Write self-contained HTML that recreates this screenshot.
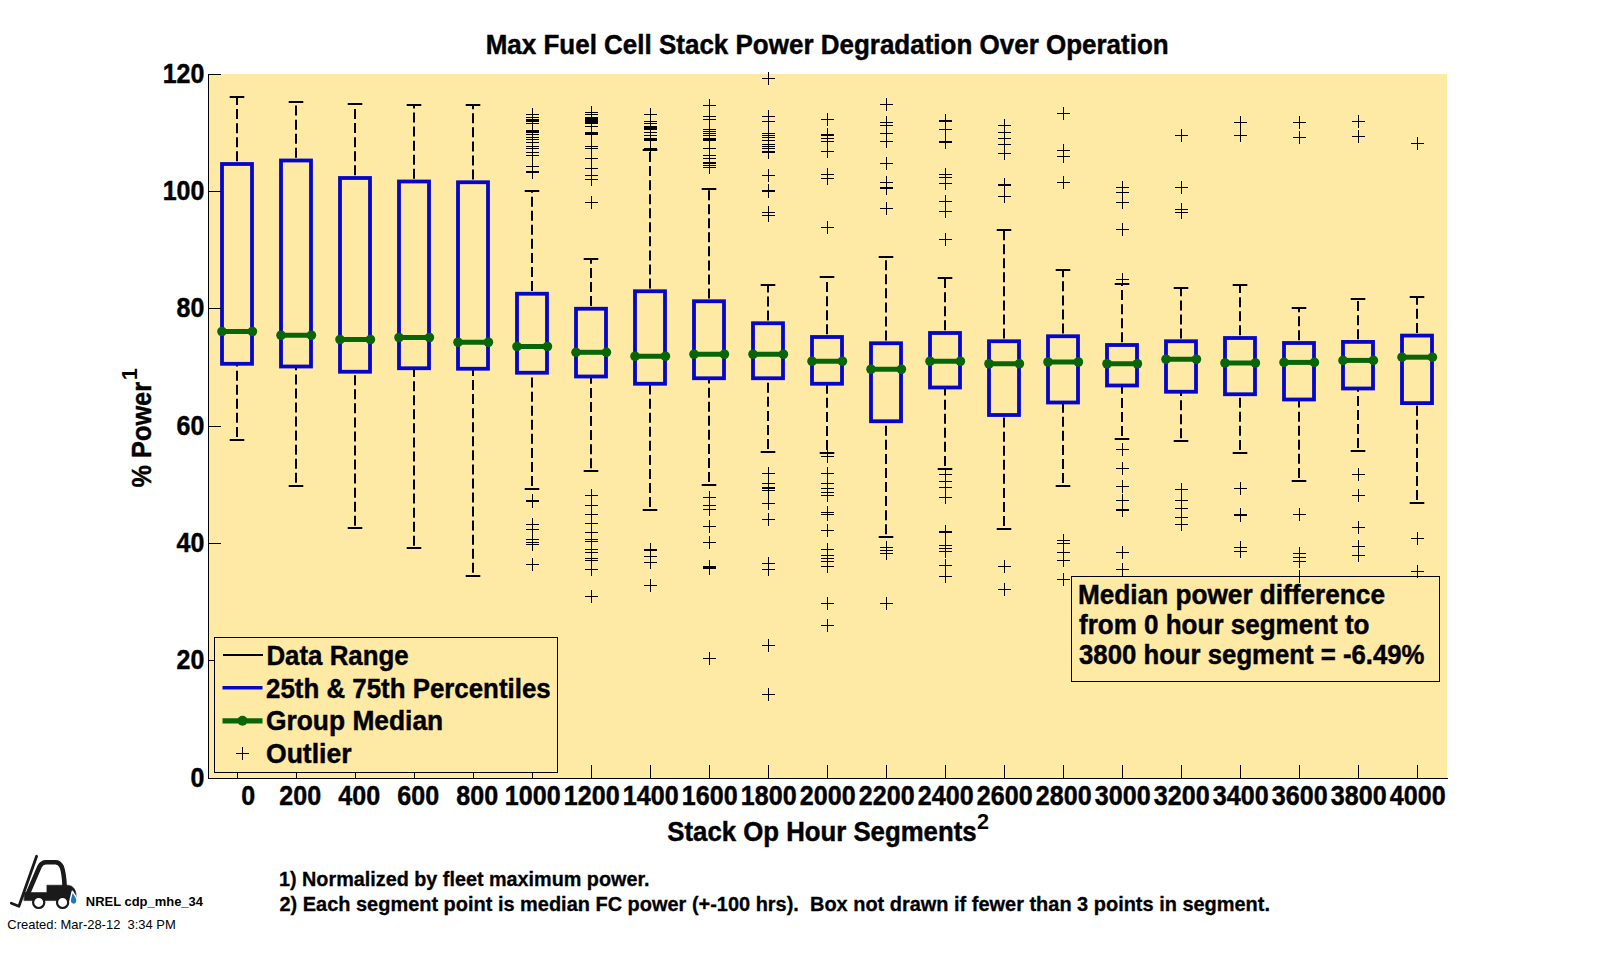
<!DOCTYPE html>
<html lang="en"><head><meta charset="utf-8"><title>Max Fuel Cell Stack Power Degradation Over Operation</title>
<style>html,body{margin:0;padding:0;background:#fff;}body{width:1599px;height:960px;overflow:hidden;}svg{display:block;}text{font-family:"Liberation Sans",Arial,Helvetica,sans-serif;fill:#000;}.b{font-weight:bold;}.t25{font-size:27px;stroke:#000;stroke-width:0.45px;}.t19{font-size:20.2px;stroke:#000;stroke-width:0.3px;}.t12{font-size:13.6px;}</style></head><body>
<svg width="1599" height="960" viewBox="0 0 1599 960">
<rect x="0" y="0" width="1599" height="960" fill="#ffffff"/>
<rect x="209" y="74" width="1238" height="704" fill="#FFEAA5"/>
<g stroke="#000" stroke-width="2" fill="none">
<path d="M237.00 164.00V97.00" stroke-dasharray="10 4.06" stroke-dashoffset="11.36"/>
<path d="M237.00 439.60V363.80" stroke-dasharray="10 4.06" stroke-dashoffset="11.36"/>
<path d="M229.70 97H244.30M229.70 440H244.30"/>
<path d="M296.00 160.50V101.75" stroke-dasharray="10 4.06" stroke-dashoffset="11.36"/>
<path d="M296.00 485.50V366.50" stroke-dasharray="10 4.06" stroke-dashoffset="11.36"/>
<path d="M288.70 102H303.30M288.70 486H303.30"/>
<path d="M355.00 178.00V104.00" stroke-dasharray="10 4.06" stroke-dashoffset="11.36"/>
<path d="M355.00 528.50V371.75" stroke-dasharray="10 4.06" stroke-dashoffset="11.36"/>
<path d="M347.70 104H362.30M347.70 528H362.30"/>
<path d="M414.00 181.50V105.25" stroke-dasharray="10 4.06" stroke-dashoffset="11.36"/>
<path d="M414.00 548.50V368.25" stroke-dasharray="10 4.06" stroke-dashoffset="11.36"/>
<path d="M406.70 105H421.30M406.70 548H421.30"/>
<path d="M473.00 182.25V105.25" stroke-dasharray="10 4.06" stroke-dashoffset="11.36"/>
<path d="M473.00 575.50V368.75" stroke-dasharray="10 4.06" stroke-dashoffset="11.36"/>
<path d="M465.70 105H480.30M465.70 576H480.30"/>
<path d="M532.00 293.75V190.60" stroke-dasharray="10 4.06" stroke-dashoffset="11.36"/>
<path d="M532.00 488.70V372.75" stroke-dasharray="10 4.06" stroke-dashoffset="11.36"/>
<path d="M524.70 191H539.30M524.70 489H539.30"/>
<path d="M591.00 308.75V258.75" stroke-dasharray="10 4.06" stroke-dashoffset="11.36"/>
<path d="M591.00 470.90V376.50" stroke-dasharray="10 4.06" stroke-dashoffset="11.36"/>
<path d="M583.70 259H598.30M583.70 471H598.30"/>
<path d="M650.00 291.25V150.50" stroke-dasharray="10 4.06" stroke-dashoffset="11.36"/>
<path d="M650.00 509.80V383.75" stroke-dasharray="10 4.06" stroke-dashoffset="11.36"/>
<path d="M642.70 150H657.30M642.70 510H657.30"/>
<path d="M709.00 301.25V188.90" stroke-dasharray="10 4.06" stroke-dashoffset="11.36"/>
<path d="M709.00 484.70V378.25" stroke-dasharray="10 4.06" stroke-dashoffset="11.36"/>
<path d="M701.70 189H716.30M701.70 485H716.30"/>
<path d="M768.00 323.25V284.90" stroke-dasharray="10 4.06" stroke-dashoffset="11.36"/>
<path d="M768.00 451.70V378.25" stroke-dasharray="10 4.06" stroke-dashoffset="11.36"/>
<path d="M760.70 285H775.30M760.70 452H775.30"/>
<path d="M827.00 337.00V277.00" stroke-dasharray="10 4.06" stroke-dashoffset="11.36"/>
<path d="M827.00 452.70V383.75" stroke-dasharray="10 4.06" stroke-dashoffset="11.36"/>
<path d="M819.70 277H834.30M819.70 453H834.30"/>
<path d="M886.00 343.25V257.00" stroke-dasharray="10 4.06" stroke-dashoffset="11.36"/>
<path d="M886.00 536.90V421.25" stroke-dasharray="10 4.06" stroke-dashoffset="11.36"/>
<path d="M878.70 257H893.30M878.70 537H893.30"/>
<path d="M945.00 333.00V278.00" stroke-dasharray="10 4.06" stroke-dashoffset="11.36"/>
<path d="M945.00 468.60V387.50" stroke-dasharray="10 4.06" stroke-dashoffset="11.36"/>
<path d="M937.70 278H952.30M937.70 469H952.30"/>
<path d="M1004.00 341.25V230.00" stroke-dasharray="10 4.06" stroke-dashoffset="11.36"/>
<path d="M1004.00 528.70V415.00" stroke-dasharray="10 4.06" stroke-dashoffset="11.36"/>
<path d="M996.70 230H1011.30M996.70 529H1011.30"/>
<path d="M1063.00 336.25V269.75" stroke-dasharray="10 4.06" stroke-dashoffset="11.36"/>
<path d="M1063.00 485.70V402.50" stroke-dasharray="10 4.06" stroke-dashoffset="11.36"/>
<path d="M1055.70 270H1070.30M1055.70 486H1070.30"/>
<path d="M1122.00 345.00V283.75" stroke-dasharray="10 4.06" stroke-dashoffset="11.36"/>
<path d="M1122.00 438.75V385.50" stroke-dasharray="10 4.06" stroke-dashoffset="11.36"/>
<path d="M1114.70 284H1129.30M1114.70 439H1129.30"/>
<path d="M1181.00 341.25V288.00" stroke-dasharray="10 4.06" stroke-dashoffset="11.36"/>
<path d="M1181.00 441.00V391.75" stroke-dasharray="10 4.06" stroke-dashoffset="11.36"/>
<path d="M1173.70 288H1188.30M1173.70 441H1188.30"/>
<path d="M1240.00 338.00V285.00" stroke-dasharray="10 4.06" stroke-dashoffset="11.36"/>
<path d="M1240.00 452.60V394.25" stroke-dasharray="10 4.06" stroke-dashoffset="11.36"/>
<path d="M1232.70 285H1247.30M1232.70 453H1247.30"/>
<path d="M1299.00 343.00V308.00" stroke-dasharray="10 4.06" stroke-dashoffset="11.36"/>
<path d="M1299.00 480.60V399.50" stroke-dasharray="10 4.06" stroke-dashoffset="11.36"/>
<path d="M1291.70 308H1306.30M1291.70 481H1306.30"/>
<path d="M1358.00 341.90V299.00" stroke-dasharray="10 4.06" stroke-dashoffset="11.36"/>
<path d="M1358.00 450.80V388.50" stroke-dasharray="10 4.06" stroke-dashoffset="11.36"/>
<path d="M1350.70 299H1365.30M1350.70 451H1365.30"/>
<path d="M1417.00 335.60V297.20" stroke-dasharray="10 4.06" stroke-dashoffset="11.36"/>
<path d="M1417.00 502.80V403.10" stroke-dasharray="10 4.06" stroke-dashoffset="11.36"/>
<path d="M1409.70 297H1424.30M1409.70 503H1424.30"/>
</g>
<g stroke="#0606C8" stroke-width="3.8" fill="none" stroke-linejoin="miter">
<rect x="222.00" y="164.00" width="30.00" height="199.80"/>
<rect x="281.00" y="160.50" width="30.00" height="206.00"/>
<rect x="340.00" y="178.00" width="30.00" height="193.75"/>
<rect x="399.00" y="181.50" width="30.00" height="186.75"/>
<rect x="458.00" y="182.25" width="30.00" height="186.50"/>
<rect x="517.00" y="293.75" width="30.00" height="79.00"/>
<rect x="576.00" y="308.75" width="30.00" height="67.75"/>
<rect x="635.00" y="291.25" width="30.00" height="92.50"/>
<rect x="694.00" y="301.25" width="30.00" height="77.00"/>
<rect x="753.00" y="323.25" width="30.00" height="55.00"/>
<rect x="812.00" y="337.00" width="30.00" height="46.75"/>
<rect x="871.00" y="343.25" width="30.00" height="78.00"/>
<rect x="930.00" y="333.00" width="30.00" height="54.50"/>
<rect x="989.00" y="341.25" width="30.00" height="73.75"/>
<rect x="1048.00" y="336.25" width="30.00" height="66.25"/>
<rect x="1107.00" y="345.00" width="30.00" height="40.50"/>
<rect x="1166.00" y="341.25" width="30.00" height="50.50"/>
<rect x="1225.00" y="338.00" width="30.00" height="56.25"/>
<rect x="1284.00" y="343.00" width="30.00" height="56.50"/>
<rect x="1343.00" y="341.90" width="30.00" height="46.60"/>
<rect x="1402.00" y="335.60" width="30.00" height="67.50"/>
</g>
<g stroke="#086608" stroke-width="5" fill="#086608">
<path d="M222.00 331.50H252.00"/>
<path d="M281.00 335.25H311.00"/>
<path d="M340.00 339.50H370.00"/>
<path d="M399.00 337.50H429.00"/>
<path d="M458.00 342.25H488.00"/>
<path d="M517.00 346.50H547.00"/>
<path d="M576.00 352.30H606.00"/>
<path d="M635.00 356.25H665.00"/>
<path d="M694.00 354.25H724.00"/>
<path d="M753.00 354.25H783.00"/>
<path d="M812.00 361.25H842.00"/>
<path d="M871.00 369.25H901.00"/>
<path d="M930.00 361.25H960.00"/>
<path d="M989.00 363.75H1019.00"/>
<path d="M1048.00 362.00H1078.00"/>
<path d="M1107.00 363.75H1137.00"/>
<path d="M1166.00 359.25H1196.00"/>
<path d="M1225.00 363.00H1255.00"/>
<path d="M1284.00 362.40H1314.00"/>
<path d="M1343.00 360.40H1373.00"/>
<path d="M1402.00 357.20H1432.00"/>
</g>
<g fill="#086608">
<circle cx="222.00" cy="331.50" r="4.8"/><circle cx="252.40" cy="331.50" r="4.8"/>
<circle cx="281.00" cy="335.25" r="4.8"/><circle cx="311.40" cy="335.25" r="4.8"/>
<circle cx="340.00" cy="339.50" r="4.8"/><circle cx="370.40" cy="339.50" r="4.8"/>
<circle cx="399.00" cy="337.50" r="4.8"/><circle cx="429.40" cy="337.50" r="4.8"/>
<circle cx="458.00" cy="342.25" r="4.8"/><circle cx="488.40" cy="342.25" r="4.8"/>
<circle cx="517.00" cy="346.50" r="4.8"/><circle cx="547.40" cy="346.50" r="4.8"/>
<circle cx="576.00" cy="352.30" r="4.8"/><circle cx="606.40" cy="352.30" r="4.8"/>
<circle cx="635.00" cy="356.25" r="4.8"/><circle cx="665.40" cy="356.25" r="4.8"/>
<circle cx="694.00" cy="354.25" r="4.8"/><circle cx="724.40" cy="354.25" r="4.8"/>
<circle cx="753.00" cy="354.25" r="4.8"/><circle cx="783.40" cy="354.25" r="4.8"/>
<circle cx="812.00" cy="361.25" r="4.8"/><circle cx="842.40" cy="361.25" r="4.8"/>
<circle cx="871.00" cy="369.25" r="4.8"/><circle cx="901.40" cy="369.25" r="4.8"/>
<circle cx="930.00" cy="361.25" r="4.8"/><circle cx="960.40" cy="361.25" r="4.8"/>
<circle cx="989.00" cy="363.75" r="4.8"/><circle cx="1019.40" cy="363.75" r="4.8"/>
<circle cx="1048.00" cy="362.00" r="4.8"/><circle cx="1078.40" cy="362.00" r="4.8"/>
<circle cx="1107.00" cy="363.75" r="4.8"/><circle cx="1137.40" cy="363.75" r="4.8"/>
<circle cx="1166.00" cy="359.25" r="4.8"/><circle cx="1196.40" cy="359.25" r="4.8"/>
<circle cx="1225.00" cy="363.00" r="4.8"/><circle cx="1255.40" cy="363.00" r="4.8"/>
<circle cx="1284.00" cy="362.40" r="4.8"/><circle cx="1314.40" cy="362.40" r="4.8"/>
<circle cx="1343.00" cy="360.40" r="4.8"/><circle cx="1373.40" cy="360.40" r="4.8"/>
<circle cx="1402.00" cy="357.20" r="4.8"/><circle cx="1432.40" cy="357.20" r="4.8"/>
</g>
<path id="outliers" stroke="#000" stroke-width="1" fill="none" shape-rendering="crispEdges" d="M526.0 114.5h13M532.5 108.0v13M526.0 117.5h13M532.5 111.0v13M526.0 119.5h13M532.5 113.0v13M526.0 120.5h13M532.5 114.0v13M526.0 121.5h13M532.5 115.0v13M526.0 123.5h13M532.5 117.0v13M526.0 130.5h13M532.5 124.0v13M526.0 131.5h13M532.5 125.0v13M526.0 132.5h13M532.5 126.0v13M526.0 134.5h13M532.5 128.0v13M526.0 137.5h13M532.5 131.0v13M526.0 139.5h13M532.5 133.0v13M526.0 142.5h13M532.5 136.0v13M526.0 146.5h13M532.5 140.0v13M526.0 148.5h13M532.5 142.0v13M526.0 152.5h13M532.5 146.0v13M526.0 155.5h13M532.5 149.0v13M526.0 166.5h13M532.5 160.0v13M526.0 171.5h13M532.5 165.0v13M526.0 172.5h13M532.5 166.0v13M526.0 500.5h13M532.5 494.0v13M526.0 501.5h13M532.5 495.0v13M526.0 524.5h13M532.5 518.0v13M526.0 529.5h13M532.5 523.0v13M526.0 539.5h13M532.5 533.0v13M526.0 542.5h13M532.5 536.0v13M526.0 544.5h13M532.5 538.0v13M526.0 564.5h13M532.5 558.0v13M585.0 112.5h13M591.5 106.0v13M585.0 114.5h13M591.5 108.0v13M585.0 117.5h13M591.5 111.0v13M585.0 118.5h13M591.5 112.0v13M585.0 119.5h13M591.5 113.0v13M585.0 120.5h13M591.5 114.0v13M585.0 121.5h13M591.5 115.0v13M585.0 122.5h13M591.5 116.0v13M585.0 123.5h13M591.5 117.0v13M585.0 126.5h13M591.5 120.0v13M585.0 132.5h13M591.5 126.0v13M585.0 133.5h13M591.5 127.0v13M585.0 134.5h13M591.5 128.0v13M585.0 146.5h13M591.5 140.0v13M585.0 148.5h13M591.5 142.0v13M585.0 158.5h13M591.5 152.0v13M585.0 168.5h13M591.5 162.0v13M585.0 175.5h13M591.5 169.0v13M585.0 179.5h13M591.5 173.0v13M585.0 202.5h13M591.5 196.0v13M585.0 495.5h13M591.5 489.0v13M585.0 505.5h13M591.5 499.0v13M585.0 514.5h13M591.5 508.0v13M585.0 523.5h13M591.5 517.0v13M585.0 532.5h13M591.5 526.0v13M585.0 539.5h13M591.5 533.0v13M585.0 541.5h13M591.5 535.0v13M585.0 549.5h13M591.5 543.0v13M585.0 552.5h13M591.5 546.0v13M585.0 558.5h13M591.5 552.0v13M585.0 560.5h13M591.5 554.0v13M585.0 569.5h13M591.5 563.0v13M585.0 596.5h13M591.5 590.0v13M644.0 114.5h13M650.5 108.0v13M644.0 121.5h13M650.5 115.0v13M644.0 123.5h13M650.5 117.0v13M644.0 126.5h13M650.5 120.0v13M644.0 127.5h13M650.5 121.0v13M644.0 128.5h13M650.5 122.0v13M644.0 129.5h13M650.5 123.0v13M644.0 132.5h13M650.5 126.0v13M644.0 135.5h13M650.5 129.0v13M644.0 138.5h13M650.5 132.0v13M644.0 139.5h13M650.5 133.0v13M644.0 140.5h13M650.5 134.0v13M644.0 148.5h13M650.5 142.0v13M644.0 149.5h13M650.5 143.0v13M644.0 549.5h13M650.5 543.0v13M644.0 550.5h13M650.5 544.0v13M644.0 556.5h13M650.5 550.0v13M644.0 562.5h13M650.5 556.0v13M644.0 585.5h13M650.5 579.0v13M703.0 105.5h13M709.5 99.0v13M703.0 116.5h13M709.5 110.0v13M703.0 119.5h13M709.5 113.0v13M703.0 129.5h13M709.5 123.0v13M703.0 131.5h13M709.5 125.0v13M703.0 133.5h13M709.5 127.0v13M703.0 135.5h13M709.5 129.0v13M703.0 138.5h13M709.5 132.0v13M703.0 139.5h13M709.5 133.0v13M703.0 140.5h13M709.5 134.0v13M703.0 148.5h13M709.5 142.0v13M703.0 155.5h13M709.5 149.0v13M703.0 158.5h13M709.5 152.0v13M703.0 162.5h13M709.5 156.0v13M703.0 163.5h13M709.5 157.0v13M703.0 165.5h13M709.5 159.0v13M703.0 167.5h13M709.5 161.0v13M703.0 497.5h13M709.5 491.0v13M703.0 505.5h13M709.5 499.0v13M703.0 509.5h13M709.5 503.0v13M703.0 526.5h13M709.5 520.0v13M703.0 542.5h13M709.5 536.0v13M703.0 566.5h13M709.5 560.0v13M703.0 567.5h13M709.5 561.0v13M703.0 568.5h13M709.5 562.0v13M703.0 658.5h13M709.5 652.0v13M762.0 78.5h13M768.5 72.0v13M762.0 116.5h13M768.5 110.0v13M762.0 121.5h13M768.5 115.0v13M762.0 133.5h13M768.5 127.0v13M762.0 135.5h13M768.5 129.0v13M762.0 137.5h13M768.5 131.0v13M762.0 140.5h13M768.5 134.0v13M762.0 144.5h13M768.5 138.0v13M762.0 146.5h13M768.5 140.0v13M762.0 148.5h13M768.5 142.0v13M762.0 151.5h13M768.5 145.0v13M762.0 152.5h13M768.5 146.0v13M762.0 175.5h13M768.5 169.0v13M762.0 190.5h13M768.5 184.0v13M762.0 191.5h13M768.5 185.0v13M762.0 212.5h13M768.5 206.0v13M762.0 215.5h13M768.5 209.0v13M762.0 473.5h13M768.5 467.0v13M762.0 483.5h13M768.5 477.0v13M762.0 487.5h13M768.5 481.0v13M762.0 488.5h13M768.5 482.0v13M762.0 490.5h13M768.5 484.0v13M762.0 503.5h13M768.5 497.0v13M762.0 519.5h13M768.5 513.0v13M762.0 563.5h13M768.5 557.0v13M762.0 569.5h13M768.5 563.0v13M762.0 645.5h13M768.5 639.0v13M762.0 694.5h13M768.5 688.0v13M821.0 119.5h13M827.5 113.0v13M821.0 134.5h13M827.5 128.0v13M821.0 135.5h13M827.5 129.0v13M821.0 138.5h13M827.5 132.0v13M821.0 141.5h13M827.5 135.0v13M821.0 151.5h13M827.5 145.0v13M821.0 174.5h13M827.5 168.0v13M821.0 178.5h13M827.5 172.0v13M821.0 227.5h13M827.5 221.0v13M821.0 456.5h13M827.5 450.0v13M821.0 473.5h13M827.5 467.0v13M821.0 483.5h13M827.5 477.0v13M821.0 488.5h13M827.5 482.0v13M821.0 492.5h13M827.5 486.0v13M821.0 495.5h13M827.5 489.0v13M821.0 512.5h13M827.5 506.0v13M821.0 514.5h13M827.5 508.0v13M821.0 530.5h13M827.5 524.0v13M821.0 549.5h13M827.5 543.0v13M821.0 555.5h13M827.5 549.0v13M821.0 558.5h13M827.5 552.0v13M821.0 561.5h13M827.5 555.0v13M821.0 566.5h13M827.5 560.0v13M821.0 603.5h13M827.5 597.0v13M821.0 625.5h13M827.5 619.0v13M880.0 104.5h13M886.5 98.0v13M880.0 122.5h13M886.5 116.0v13M880.0 125.5h13M886.5 119.0v13M880.0 133.5h13M886.5 127.0v13M880.0 141.5h13M886.5 135.0v13M880.0 163.5h13M886.5 157.0v13M880.0 182.5h13M886.5 176.0v13M880.0 187.5h13M886.5 181.0v13M880.0 188.5h13M886.5 182.0v13M880.0 208.5h13M886.5 202.0v13M880.0 547.5h13M886.5 541.0v13M880.0 550.5h13M886.5 544.0v13M880.0 553.5h13M886.5 547.0v13M880.0 603.5h13M886.5 597.0v13M939.0 120.5h13M945.5 114.0v13M939.0 121.5h13M945.5 115.0v13M939.0 129.5h13M945.5 123.0v13M939.0 141.5h13M945.5 135.0v13M939.0 142.5h13M945.5 136.0v13M939.0 174.5h13M945.5 168.0v13M939.0 177.5h13M945.5 171.0v13M939.0 183.5h13M945.5 177.0v13M939.0 201.5h13M945.5 195.0v13M939.0 211.5h13M945.5 205.0v13M939.0 239.5h13M945.5 233.0v13M939.0 474.5h13M945.5 468.0v13M939.0 481.5h13M945.5 475.0v13M939.0 487.5h13M945.5 481.0v13M939.0 497.5h13M945.5 491.0v13M939.0 531.5h13M945.5 525.0v13M939.0 532.5h13M945.5 526.0v13M939.0 545.5h13M945.5 539.0v13M939.0 548.5h13M945.5 542.0v13M939.0 551.5h13M945.5 545.0v13M939.0 565.5h13M945.5 559.0v13M939.0 576.5h13M945.5 570.0v13M998.0 125.5h13M1004.5 119.0v13M998.0 132.5h13M1004.5 126.0v13M998.0 138.5h13M1004.5 132.0v13M998.0 144.5h13M1004.5 138.0v13M998.0 153.5h13M1004.5 147.0v13M998.0 184.5h13M1004.5 178.0v13M998.0 185.5h13M1004.5 179.0v13M998.0 196.5h13M1004.5 190.0v13M998.0 566.5h13M1004.5 560.0v13M998.0 589.5h13M1004.5 583.0v13M1057.0 113.5h13M1063.5 107.0v13M1057.0 150.5h13M1063.5 144.0v13M1057.0 156.5h13M1063.5 150.0v13M1057.0 182.5h13M1063.5 176.0v13M1057.0 540.5h13M1063.5 534.0v13M1057.0 543.5h13M1063.5 537.0v13M1057.0 552.5h13M1063.5 546.0v13M1057.0 560.5h13M1063.5 554.0v13M1057.0 579.5h13M1063.5 573.0v13M1116.0 187.5h13M1122.5 181.0v13M1116.0 192.5h13M1122.5 186.0v13M1116.0 202.5h13M1122.5 196.0v13M1116.0 229.5h13M1122.5 223.0v13M1116.0 279.5h13M1122.5 273.0v13M1116.0 449.5h13M1122.5 443.0v13M1116.0 468.5h13M1122.5 462.0v13M1116.0 486.5h13M1122.5 480.0v13M1116.0 500.5h13M1122.5 494.0v13M1116.0 509.5h13M1122.5 503.0v13M1116.0 510.5h13M1122.5 504.0v13M1116.0 552.5h13M1122.5 546.0v13M1116.0 569.5h13M1122.5 563.0v13M1175.0 135.5h13M1181.5 129.0v13M1175.0 187.5h13M1181.5 181.0v13M1175.0 209.5h13M1181.5 203.0v13M1175.0 212.5h13M1181.5 206.0v13M1175.0 489.5h13M1181.5 483.0v13M1175.0 500.5h13M1181.5 494.0v13M1175.0 508.5h13M1181.5 502.0v13M1175.0 517.5h13M1181.5 511.0v13M1175.0 524.5h13M1181.5 518.0v13M1234.0 122.5h13M1240.5 116.0v13M1234.0 135.5h13M1240.5 129.0v13M1234.0 488.5h13M1240.5 482.0v13M1234.0 514.5h13M1240.5 508.0v13M1234.0 515.5h13M1240.5 509.0v13M1234.0 547.5h13M1240.5 541.0v13M1234.0 551.5h13M1240.5 545.0v13M1293.0 122.5h13M1299.5 116.0v13M1293.0 137.5h13M1299.5 131.0v13M1293.0 514.5h13M1299.5 508.0v13M1293.0 553.5h13M1299.5 547.0v13M1293.0 557.5h13M1299.5 551.0v13M1293.0 561.5h13M1299.5 555.0v13M1293.0 576.5h13M1299.5 570.0v13M1352.0 121.5h13M1358.5 115.0v13M1352.0 136.5h13M1358.5 130.0v13M1352.0 474.5h13M1358.5 468.0v13M1352.0 495.5h13M1358.5 489.0v13M1352.0 527.5h13M1358.5 521.0v13M1352.0 546.5h13M1358.5 540.0v13M1352.0 555.5h13M1358.5 549.0v13M1411.0 143.5h13M1417.5 137.0v13M1411.0 538.5h13M1417.5 532.0v13M1411.0 571.5h13M1417.5 565.0v13"/>
<g stroke="#000" stroke-width="1" fill="none" shape-rendering="crispEdges">
<path d="M208.5 74V778.5M208 778.5H1447.5"/>
<path d="M209 778.5h12M209 660.5h12M209 543.5h12M209 426.5h12M209 308.5h12M209 191.5h12M209 74.5h12M237.5 778v-13M296.5 778v-13M355.5 778v-13M414.5 778v-13M473.5 778v-13M532.5 778v-13M591.5 778v-13M650.5 778v-13M709.5 778v-13M768.5 778v-13M827.5 778v-13M886.5 778v-13M945.5 778v-13M1004.5 778v-13M1063.5 778v-13M1122.5 778v-13M1181.5 778v-13M1240.5 778v-13M1299.5 778v-13M1358.5 778v-13M1417.5 778v-13"/>
</g>
<rect x="214.5" y="637.5" width="343" height="134.5" fill="#FFEAA5" stroke="#000" stroke-width="1" shape-rendering="crispEdges"/>
<path d="M222.5 655H262.5" stroke="#000" stroke-width="2" shape-rendering="crispEdges"/>
<path d="M222.5 687.7H262.5" stroke="#0606C8" stroke-width="3.6"/>
<path d="M222.5 720.8H262.5" stroke="#086608" stroke-width="5.2"/><circle cx="242.5" cy="720.8" r="5" fill="#086608"/>
<path d="M236 753.5h13M242.5 747v13" stroke="#000" stroke-width="1" shape-rendering="crispEdges"/>
<g class="b t25">
<text x="266.4" y="665" textLength="142.3" lengthAdjust="spacingAndGlyphs">Data Range</text>
<text x="266" y="697.5" textLength="284.7" lengthAdjust="spacingAndGlyphs">25th &amp; 75th Percentiles</text>
<text x="266" y="730" textLength="177.2" lengthAdjust="spacingAndGlyphs">Group Median</text>
<text x="266" y="762.5" textLength="85.5" lengthAdjust="spacingAndGlyphs">Outlier</text>
</g>
<rect x="1071.5" y="576.5" width="368" height="105" fill="none" stroke="#000" stroke-width="1" shape-rendering="crispEdges"/>
<g class="b t25">
<text x="1078" y="603.9" textLength="307" lengthAdjust="spacingAndGlyphs">Median power difference</text>
<text x="1079" y="633.9" textLength="290.5" lengthAdjust="spacingAndGlyphs">from 0 hour segment to</text>
<text x="1079" y="663.9" textLength="345.5" lengthAdjust="spacingAndGlyphs">3800 hour segment = -6.49%</text>
</g>
<text class="b t25" x="485.7" y="54" textLength="683" lengthAdjust="spacingAndGlyphs">Max Fuel Cell Stack Power Degradation Over Operation</text>
<g class="b t25" text-anchor="end">
<text x="204.4" y="786.8" textLength="13.9" lengthAdjust="spacingAndGlyphs">0</text>
<text x="204.4" y="668.8" textLength="27.8" lengthAdjust="spacingAndGlyphs">20</text>
<text x="204.4" y="551.8" textLength="27.8" lengthAdjust="spacingAndGlyphs">40</text>
<text x="204.4" y="434.8" textLength="27.8" lengthAdjust="spacingAndGlyphs">60</text>
<text x="204.4" y="316.8" textLength="27.8" lengthAdjust="spacingAndGlyphs">80</text>
<text x="204.4" y="199.8" textLength="41.7" lengthAdjust="spacingAndGlyphs">100</text>
<text x="204.4" y="82.8" textLength="41.7" lengthAdjust="spacingAndGlyphs">120</text>
</g>
<g class="b t25" text-anchor="middle">
<text x="248.1" y="804.8" textLength="13.9" lengthAdjust="spacingAndGlyphs">0</text>
<text x="300.2" y="804.8" textLength="41.8" lengthAdjust="spacingAndGlyphs">200</text>
<text x="359.2" y="804.8" textLength="41.8" lengthAdjust="spacingAndGlyphs">400</text>
<text x="418.2" y="804.8" textLength="41.8" lengthAdjust="spacingAndGlyphs">600</text>
<text x="477.2" y="804.8" textLength="41.8" lengthAdjust="spacingAndGlyphs">800</text>
<text x="532.7" y="804.8" textLength="55.8" lengthAdjust="spacingAndGlyphs">1000</text>
<text x="591.7" y="804.8" textLength="55.8" lengthAdjust="spacingAndGlyphs">1200</text>
<text x="650.7" y="804.8" textLength="55.8" lengthAdjust="spacingAndGlyphs">1400</text>
<text x="709.7" y="804.8" textLength="55.8" lengthAdjust="spacingAndGlyphs">1600</text>
<text x="768.7" y="804.8" textLength="55.8" lengthAdjust="spacingAndGlyphs">1800</text>
<text x="827.7" y="804.8" textLength="55.8" lengthAdjust="spacingAndGlyphs">2000</text>
<text x="886.7" y="804.8" textLength="55.8" lengthAdjust="spacingAndGlyphs">2200</text>
<text x="945.7" y="804.8" textLength="55.8" lengthAdjust="spacingAndGlyphs">2400</text>
<text x="1004.7" y="804.8" textLength="55.8" lengthAdjust="spacingAndGlyphs">2600</text>
<text x="1063.7" y="804.8" textLength="55.8" lengthAdjust="spacingAndGlyphs">2800</text>
<text x="1122.7" y="804.8" textLength="55.8" lengthAdjust="spacingAndGlyphs">3000</text>
<text x="1181.7" y="804.8" textLength="55.8" lengthAdjust="spacingAndGlyphs">3200</text>
<text x="1240.7" y="804.8" textLength="55.8" lengthAdjust="spacingAndGlyphs">3400</text>
<text x="1299.7" y="804.8" textLength="55.8" lengthAdjust="spacingAndGlyphs">3600</text>
<text x="1358.7" y="804.8" textLength="55.8" lengthAdjust="spacingAndGlyphs">3800</text>
<text x="1417.7" y="804.8" textLength="55.8" lengthAdjust="spacingAndGlyphs">4000</text>
</g>
<text class="b t25" x="667.3" y="841" textLength="309.3" lengthAdjust="spacingAndGlyphs">Stack Op Hour Segments</text>
<text class="b" font-size="22.5px" x="977" y="829.2" textLength="12" lengthAdjust="spacingAndGlyphs">2</text>
<g transform="translate(150.6 487.5) rotate(-90)"><text class="b t25" x="0" y="0" textLength="105.5" lengthAdjust="spacingAndGlyphs">% Power</text><text class="b" font-size="22px" x="107.2" y="-13.6">1</text></g>
<text class="b t19" x="279" y="886.4" textLength="370.5" lengthAdjust="spacingAndGlyphs">1) Normalized by fleet maximum power.</text>
<text class="b t19" x="279.5" y="910.6" textLength="990.5" lengthAdjust="spacingAndGlyphs" xml:space="preserve">2) Each segment point is median FC power (+-100 hrs).  Box not drawn if fewer than 3 points in segment.</text>
<text class="b t12" x="85.8" y="906.3" textLength="117.2" lengthAdjust="spacingAndGlyphs">NREL cdp_mhe_34</text>
<text class="t12" x="7.3" y="928.8" textLength="168.5" lengthAdjust="spacingAndGlyphs" xml:space="preserve">Created: Mar-28-12  3:34 PM</text>
<g id="forklift" fill="none" stroke="#1a1a1a" stroke-linecap="round" stroke-linejoin="round">
<path d="M36.6 856.3L18.9 906.2L11.3 903.3" stroke-width="2.8"/>
<path d="M27.5 894.5L39.6 866.5Q41.8 862.2 46 862.2H55.5Q59.5 862.2 61.6 866.5Q64 872.5 64.6 886" stroke-width="4.6"/>
<path d="M24.2 892.6H46.9V885.2H68Q76.2 886 76.2 897V900.6H24.2Z" fill="#1a1a1a" stroke-width="0.6"/>
<circle cx="38.7" cy="902.4" r="5.6" fill="#fff" stroke-width="2.2"/>
<circle cx="62.6" cy="902.4" r="5.6" fill="#fff" stroke-width="2.2"/>
<path d="M72.3 891.2C74 894.2 77.2 897.6 77 900.5C76.8 903 75.3 904.4 73.5 904.4C71.5 904.4 70.1 902.9 70.2 900.5C70.3 897.8 71.8 894.5 72.3 891.2Z" fill="#1b79c2" stroke="#fff" stroke-width="1.5"/>
</g>
</svg></body></html>
